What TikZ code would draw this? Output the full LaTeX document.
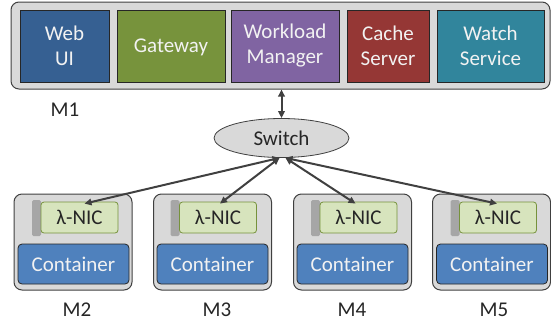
\documentclass[tikz,border=0pt]{standalone}
\usepackage{fontspec}
\setmainfont{Carlito}
\usepackage{tikz}
\usetikzlibrary{arrows.meta}
\usetikzlibrary{shapes.geometric}
\usepackage{xcolor}
\definecolor{ColWeb}{RGB}{54,96,146}
\definecolor{ColGate}{RGB}{119,147,60}
\definecolor{ColWlm}{RGB}{128,100,162}
\definecolor{ColCache}{RGB}{149,55,53}
\definecolor{ColWatch}{RGB}{49,133,156}
\definecolor{ColCont}{RGB}{79,129,189}
\definecolor{ColNic}{RGB}{215,228,189}
\definecolor{ColNicLine}{RGB}{118,146,60}
\definecolor{ColHost}{RGB}{217,217,217}
\definecolor{ColBar}{RGB}{166,166,166}
\definecolor{ColLine}{RGB}{64,64,64}
\tikzstyle{BigFont}=[font=\fontsize{21}{25}\selectfont]
\tikzstyle{HostBox}=[draw=ColLine,fill=ColHost,line width=1pt,rounded corners=8pt,inner sep=0pt]
\tikzstyle{ServiceBox}=[BigFont,draw=black!85,line width=0.8pt,text=white!95!black,
minimum height=72pt,inner sep=0pt,align=center]
\tikzstyle{NicBox}=[BigFont,draw=ColNicLine,fill=ColNic,line width=0.8pt,rounded corners=3pt,
text=black!85,minimum width=77pt,minimum height=31pt,inner sep=0pt]
\tikzstyle{NicBar}=[fill=ColBar,rounded corners=1.5pt,minimum width=9pt,minimum height=36pt,inner sep=0pt]
\tikzstyle{ContBox}=[BigFont,draw=black!85,fill=ColCont,line width=0.8pt,rounded corners=4pt,
text=white!95!black,minimum width=111pt,minimum height=40pt,inner sep=0pt]
\tikzstyle{HostLabel}=[BigFont,text=black!85,inner sep=0pt]
\tikzstyle{EdgeLink}=[ColLine,line width=2pt,{Triangle[length=7pt,width=6.5pt]}-{Triangle[length=7pt,width=6.5pt]}]

\begin{document}
\begin{tikzpicture}[x=1pt,y=-1pt]
        \useasboundingbox(0,0)rectangle(551,322);
        % manager machine
        \node[HostBox,minimum width=539pt,minimum height=87pt](m1)at(280.5,45.5){};
        \node[ServiceBox,fill=ColWeb,minimum width=89pt](web)at(64.5,46){Web\\UI};
        \node[ServiceBox,fill=ColGate,minimum width=108pt,text depth=0pt](gate)at(171,46){Gateway};
        \node[ServiceBox,fill=ColWlm,minimum width=108pt](wlm)at(285,46){Workload\\Manager};
        \node[ServiceBox,fill=ColCache,minimum width=82pt](cache)at(388,46){Cache\\Server};
        \node[ServiceBox,fill=ColWatch,minimum width=107pt](watch)at(490.5,46){Watch\\Service};
        \node[HostLabel](lm1)at(65,110){M1};
        % switch
        \node[ellipse,draw=ColLine,fill=ColHost,line width=0.8pt,BigFont,text=black!85,
            minimum width=135pt,minimum height=39pt,inner sep=0pt](sw)at(281.5,138){Switch};
        % worker machines
        \node[HostBox,minimum width=118pt,minimum height=96pt](m2)at(73,242){};
        \node[NicBar](bar2)at(36.5,218){};
        \node[NicBox](nic2)at(79.5,217.5){λ-NIC};
        \node[ContBox](cont2)at(73.5,264){Container};
        \node[HostLabel](lm2)at(77,310){M2};
        \node[HostBox,minimum width=118pt,minimum height=96pt](m3)at(212.5,242){};
        \node[NicBar](bar3)at(175,218){};
        \node[NicBox](nic3)at(218,217.5){λ-NIC};
        \node[ContBox](cont3)at(212.5,264){Container};
        \node[HostLabel](lm3)at(217,310){M3};
        \node[HostBox,minimum width=118pt,minimum height=96pt](m4)at(352.5,242){};
        \node[NicBar](bar4)at(315.5,218){};
        \node[NicBox](nic4)at(358.5,217.5){λ-NIC};
        \node[ContBox](cont4)at(352.5,264){Container};
        \node[HostLabel](lm4)at(352,310){M4};
        \node[HostBox,minimum width=118pt,minimum height=96pt](m5)at(491.5,242){};
        \node[NicBar](bar5)at(455,218){};
        \node[NicBox](nic5)at(498,217.5){λ-NIC};
        \node[ContBox](cont5)at(492,264){Container};
        \node[HostLabel](lm5)at(494,310){M5};
        % links
        \draw[EdgeLink](sw.north)--(sw.north|-m1.south);
        \draw[EdgeLink]([xshift=-2pt]sw.south)--([xshift=5pt,yshift=-2pt]nic2.north);
        \draw[EdgeLink]([xshift=-2pt]sw.south)--([xshift=2pt,yshift=-2pt]nic3.north);
        \draw[EdgeLink]([xshift=4pt]sw.south)--([xshift=-3pt,yshift=-2pt]nic4.north);
        \draw[EdgeLink]([xshift=4pt]sw.south)--([xshift=-1pt,yshift=-2pt]nic5.north);
    \end{tikzpicture}
\end{document}
